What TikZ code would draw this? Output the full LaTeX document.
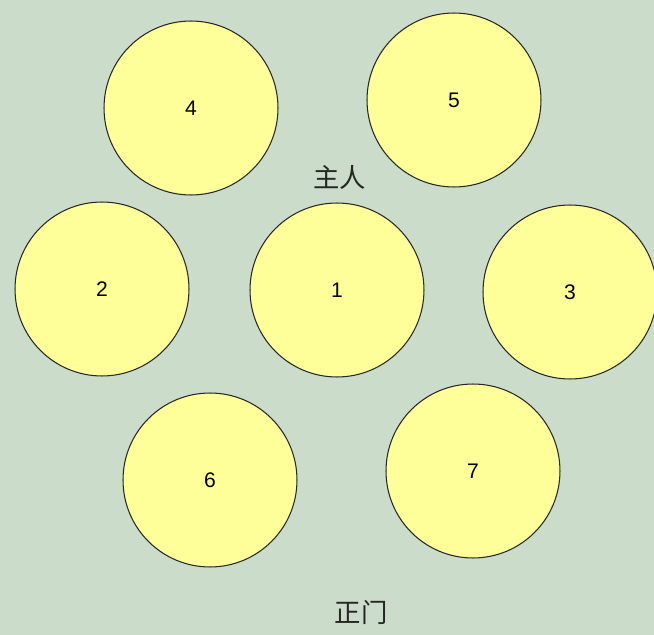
\documentclass[tikz,border=0pt]{standalone}
\usepackage{fontspec}
\setmainfont{Liberation Sans}
\newfontfamily\cjk{Noto Sans CJK SC}
\usepackage{xcolor}
\usetikzlibrary{positioning}

\definecolor{bgpaper}{HTML}{CCDCCB}
\definecolor{seatfill}{HTML}{FFFF99}

\begin{document}
\begin{tikzpicture}[
  x=0.02cm, y=-0.02cm,
  seat/.style={circle, draw=black!85, line width=0.6pt, fill=seatfill,
               minimum size=3.48cm, inner sep=0pt, font=\fontsize{12}{14}\selectfont},
  place/.style={font=\cjk\fontsize{15}{18}\selectfont, text=black!85, inner sep=0pt}
]
  % background
  \fill[bgpaper] (0,0) rectangle (654,635);
  \useasboundingbox (0,0) rectangle (654,635);

  % back row
  \node[seat] (s4) at (191,108) {4};
  \node[seat] (s5) at (454,100) {5};

  % host
  \node[place] (host) at (340,177) {主人};

  % middle row
  \node[seat] (s2) at (102,289) {2};
  \node[seat] (s1) at (337,290) {1};
  \node[seat] (s3) at (570,292) {3};

  % front row
  \node[seat] (s6) at (210,480) {6};
  \node[seat] (s7) at (473,471) {7};

  % entrance
  \node[place] (door) at (361,612) {正门};
\end{tikzpicture}
\end{document}
